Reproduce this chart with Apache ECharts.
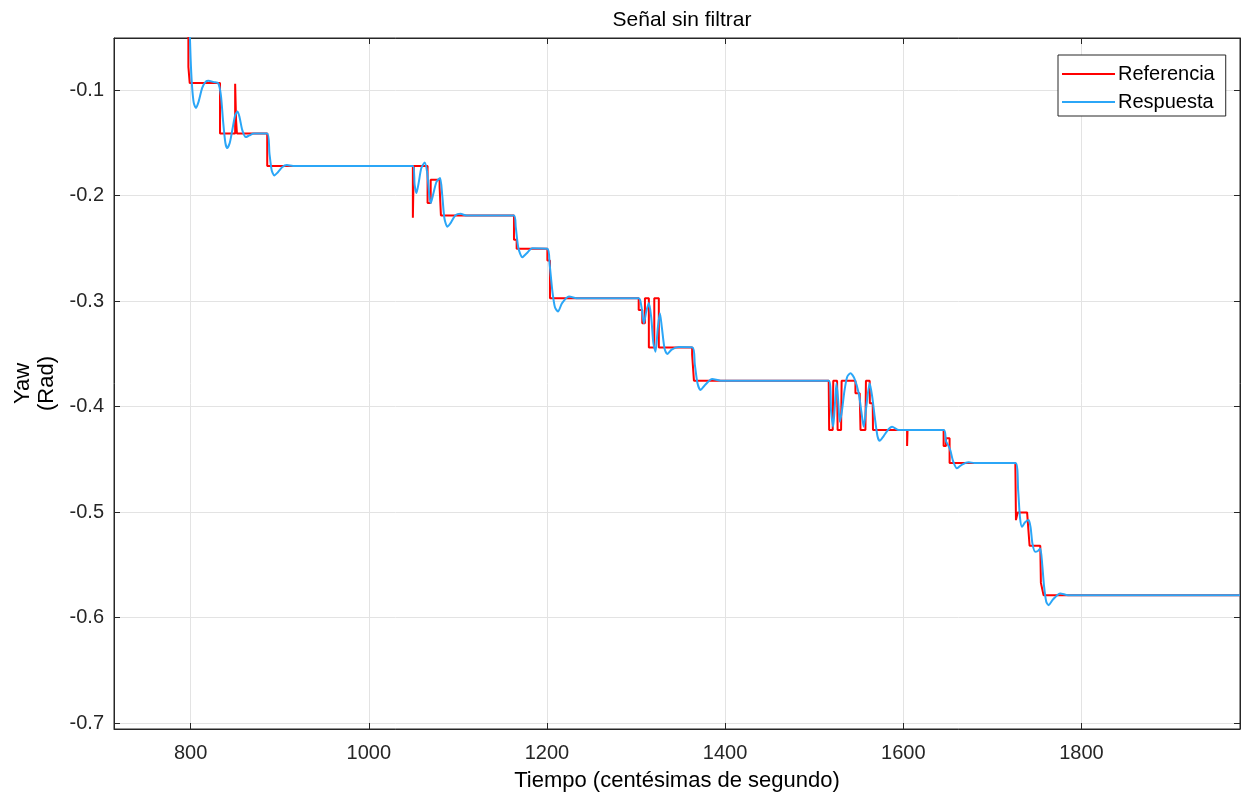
<!DOCTYPE html>
<html lang="es">
  <head>
    <meta charset="utf-8">
    <title>Señal sin filtrar</title>
    <script src="https://cdn.jsdelivr.net/npm/echarts@6/dist/echarts.min.js"></script>
    <style>
      html, body { margin: 0; padding: 0; background: #fff; }
      #yawChart { width: 1241px; height: 796px; }
    </style>
  </head>
  <body>
    <div id="yawChart"></div>
    <script type="text/javascript">
    // ticks del eje
    var xTicks = [800, 1000, 1200, 1400, 1600, 1800];
    var yTicks = [-0.7, -0.6, -0.5, -0.4, -0.3, -0.2, -0.1];

    // referencia (escalones) [tiempo, yaw]
    var referencia = [
        [797.5, -0.03], [797.5, -0.078], [799, -0.078], [799, -0.0934], [833, -0.0934], [833, -0.1412],
        [850, -0.1412], [850, -0.094], [851, -0.094], [851, -0.128], [852, -0.128], [852, -0.1412],
        [886, -0.1412], [886, -0.172], [1049.5, -0.172], [1049.5, -0.221], [1050.5, -0.221], [1050.5, -0.172],
        [1066, -0.172], [1066, -0.2072], [1069.5, -0.2072], [1069.5, -0.185], [1079.5, -0.185], [1079.5, -0.1917],
        [1081, -0.1917], [1081, -0.219], [1163, -0.219], [1163, -0.242], [1166, -0.242], [1166, -0.2505],
        [1200.5, -0.2505], [1200.5, -0.2617], [1203.4, -0.2617], [1203.4, -0.2975], [1303, -0.2975], [1303, -0.3085],
        [1307, -0.3085], [1307, -0.321], [1310, -0.321], [1310, -0.2975], [1314.4, -0.2975], [1314.4, -0.344],
        [1320.5, -0.344], [1320.5, -0.2975], [1325.6, -0.2975], [1325.6, -0.344], [1363, -0.344], [1363, -0.351],
        [1365, -0.351], [1365, -0.3755], [1516.3, -0.3755], [1516.8, -0.4223], [1520.8, -0.4223], [1521.4, -0.3755],
        [1525.7, -0.3755], [1526.3, -0.4223], [1530.2, -0.4223], [1530.8, -0.3755], [1546.3, -0.3755], [1546.3, -0.3875],
        [1551.1, -0.3875], [1552, -0.4223], [1557.5, -0.4223], [1558.1, -0.3755], [1562.3, -0.3755], [1562.5, -0.397],
        [1565.7, -0.397], [1566, -0.4223], [1604.3, -0.4223], [1604.3, -0.4375], [1604.8, -0.4375], [1604.8, -0.4223],
        [1645.3, -0.4223], [1645.3, -0.4375], [1647.9, -0.4375], [1647.9, -0.43], [1652, -0.43], [1652, -0.4535],
        [1725.8, -0.4535], [1726.5, -0.5077], [1728.4, -0.5077], [1728.4, -0.5004], [1739, -0.5004], [1741.8, -0.532],
        [1753.8, -0.532], [1754.5, -0.5672], [1755.7, -0.5672], [1757.5, -0.5789], [1978, -0.5789]
    ];

    // respuesta del sistema [tiempo, yaw]
    var respuesta = [
        [798.5, -0.03], [800, -0.07], [801.5, -0.095], [803.5, -0.112], [806, -0.117], [809, -0.111],
        [813, -0.098], [817, -0.092], [820, -0.0912], [826, -0.0925], [831, -0.0935], [834, -0.105],
        [836.5, -0.13], [839, -0.15], [841, -0.155], [844, -0.15], [847, -0.137], [850, -0.124],
        [852.7, -0.1203], [855, -0.126], [858, -0.138], [862, -0.1446], [866, -0.143], [871, -0.1412],
        [886, -0.1412], [888.5, -0.16], [891, -0.176], [894, -0.181], [898, -0.178], [903, -0.173],
        [908, -0.1712], [915, -0.172], [1049.5, -0.172], [1051.5, -0.19], [1053.5, -0.1977], [1056, -0.188],
        [1059, -0.174], [1062.8, -0.1687], [1065.5, -0.178], [1068, -0.2], [1069.5, -0.2072], [1072, -0.2],
        [1076, -0.187], [1080, -0.1835], [1082.5, -0.2], [1085, -0.222], [1088.3, -0.2295], [1092, -0.226],
        [1097, -0.219], [1103, -0.2174], [1110, -0.219], [1163, -0.219], [1165, -0.23], [1168, -0.25],
        [1172.4, -0.2585], [1177, -0.255], [1183.6, -0.25], [1200.5, -0.2505], [1203, -0.265], [1206, -0.29],
        [1209, -0.306], [1212.4, -0.31], [1217, -0.302], [1224.7, -0.2958], [1235, -0.2975], [1303, -0.2975],
        [1306, -0.305], [1308.8, -0.321], [1311.5, -0.31], [1314.4, -0.302], [1317, -0.315], [1319.5, -0.34],
        [1321.9, -0.348], [1324.5, -0.325], [1326.8, -0.3116], [1329, -0.325], [1332, -0.345], [1335, -0.3502],
        [1340, -0.346], [1348, -0.3436], [1363.5, -0.344], [1366, -0.36], [1369, -0.378], [1372.4, -0.3843],
        [1377, -0.38], [1385.5, -0.374], [1395, -0.3755], [1516.5, -0.3755], [1519, -0.405], [1521.3, -0.4192],
        [1523.5, -0.395], [1525, -0.378], [1527, -0.395], [1528.7, -0.4144], [1531, -0.405], [1534, -0.385],
        [1537, -0.372], [1540.7, -0.3685], [1545, -0.373], [1550, -0.3875], [1553, -0.405], [1555.6, -0.4192],
        [1558.5, -0.4], [1562.3, -0.378], [1565, -0.39], [1568, -0.41], [1571, -0.428], [1573.5, -0.4325],
        [1578, -0.428], [1583, -0.422], [1587.4, -0.4192], [1595, -0.4223], [1645.5, -0.4223], [1648, -0.433],
        [1650.9, -0.4375], [1653, -0.442], [1656, -0.452], [1660.3, -0.4586], [1666, -0.455], [1673.4, -0.4529],
        [1680, -0.4535], [1726, -0.4535], [1729, -0.48], [1731, -0.505], [1733.3, -0.514], [1736.5, -0.51],
        [1740.7, -0.5077], [1743, -0.515], [1745, -0.53], [1748.2, -0.5378], [1751, -0.537], [1753.8, -0.5345],
        [1756, -0.55], [1758, -0.57], [1760.5, -0.585], [1763.1, -0.5883], [1768, -0.583], [1776.2, -0.5772],
        [1785, -0.5789], [1978, -0.5789]
    ];

    var xMin = 714, xMax = 1978;
    var yMin = -0.7057, yMax = -0.0507;
    var axisColor = '#262626';
    var gridColor = '#e3e3e3';
    var font = 'Arial, "Liberation Sans", Helvetica, sans-serif';

    var yawChart = echarts.init(document.getElementById('yawChart'));

    var option = {
        animation: false,
        backgroundColor: '#fff',
        title: {
            text: 'Señal sin filtrar',
            left: 677,
            textAlign: 'center',
            top: 5,
            textStyle: { fontFamily: font, fontSize: 21, fontWeight: 'normal', color: '#000' }
        },
        legend: {
            orient: 'vertical',
            left: 1058,
            top: 55,
            padding: [8, 11, 3, 4],
            icon: 'rect',
            itemWidth: 53,
            itemHeight: 2,
            itemGap: 6,
            borderColor: axisColor,
            borderWidth: 1,
            borderRadius: 0,
            backgroundColor: '#fff',
            textStyle: { fontFamily: font, fontSize: 20, color: '#000', lineHeight: 22, padding: [0, 0, 0, -2] },
            data: ['Referencia', 'Respuesta']
        },
        grid: {
            left: 114,
            right: 1,
            top: 38,
            bottom: 67,
            outerBoundsMode: 'none',
            containLabel: false,
            show: true,
            borderColor: axisColor,
            borderWidth: 1,
            backgroundColor: '#fff'
        },
        xAxis: [{
            type: 'value',
            min: xMin,
            max: xMax,
            name: 'Tiempo (centésimas de segundo)',
            nameLocation: 'middle',
            nameGap: 41,
            nameTextStyle: { fontFamily: font, fontSize: 22, color: '#000' },
            axisLine: { show: true, lineStyle: { color: axisColor } },
            axisTick: { inside: true, length: 6, customValues: xTicks, lineStyle: { color: axisColor } },
            axisLabel: {
                customValues: xTicks,
                margin: 14,
                fontFamily: font,
                fontSize: 20,
                color: axisColor,
                formatter: function (v) { return String(v); }
            },
            splitLine: { show: true, lineStyle: { color: gridColor } }
        }, {
            type: 'value',
            position: 'top',
            min: xMin,
            max: xMax,
            axisLine: { show: true, lineStyle: { color: axisColor } },
            axisTick: { inside: true, length: 6, customValues: xTicks, lineStyle: { color: axisColor } },
            axisLabel: { show: false },
            splitLine: { show: false }
        }],
        yAxis: [{
            type: 'value',
            min: yMin,
            max: yMax,
            name: 'Yaw\n(Rad)',
            nameLocation: 'middle',
            nameRotate: 90,
            nameGap: 54,
            nameTextStyle: { fontFamily: font, fontSize: 22, color: '#000', lineHeight: 24 },
            axisLine: { show: true, lineStyle: { color: axisColor } },
            axisTick: { inside: true, length: 6, customValues: yTicks, lineStyle: { color: axisColor } },
            axisLabel: {
                customValues: yTicks,
                margin: 10,
                fontFamily: font,
                fontSize: 20,
                color: axisColor,
                formatter: function (v) { return v.toFixed(1); }
            },
            splitLine: { show: true, lineStyle: { color: gridColor } }
        }, {
            type: 'value',
            position: 'right',
            min: yMin,
            max: yMax,
            axisLine: { show: true, lineStyle: { color: axisColor } },
            axisTick: { inside: true, length: 6, customValues: yTicks, lineStyle: { color: axisColor } },
            axisLabel: { show: false },
            splitLine: { show: false }
        }],
        series: [
            {
                name: 'Referencia',
                type: 'line',
                symbol: 'none',
                clip: true,
                color: '#ff0000',
                lineStyle: { color: '#ff0000', width: 2 },
                data: referencia
            },
            {
                name: 'Respuesta',
                type: 'line',
                symbol: 'none',
                clip: true,
                smooth: 0.25,
                color: '#2ba6f7',
                lineStyle: { color: '#2ba6f7', width: 2 },
                data: respuesta
            }
        ]
    };

    yawChart.setOption(option);
    </script>
  </body>
</html>
